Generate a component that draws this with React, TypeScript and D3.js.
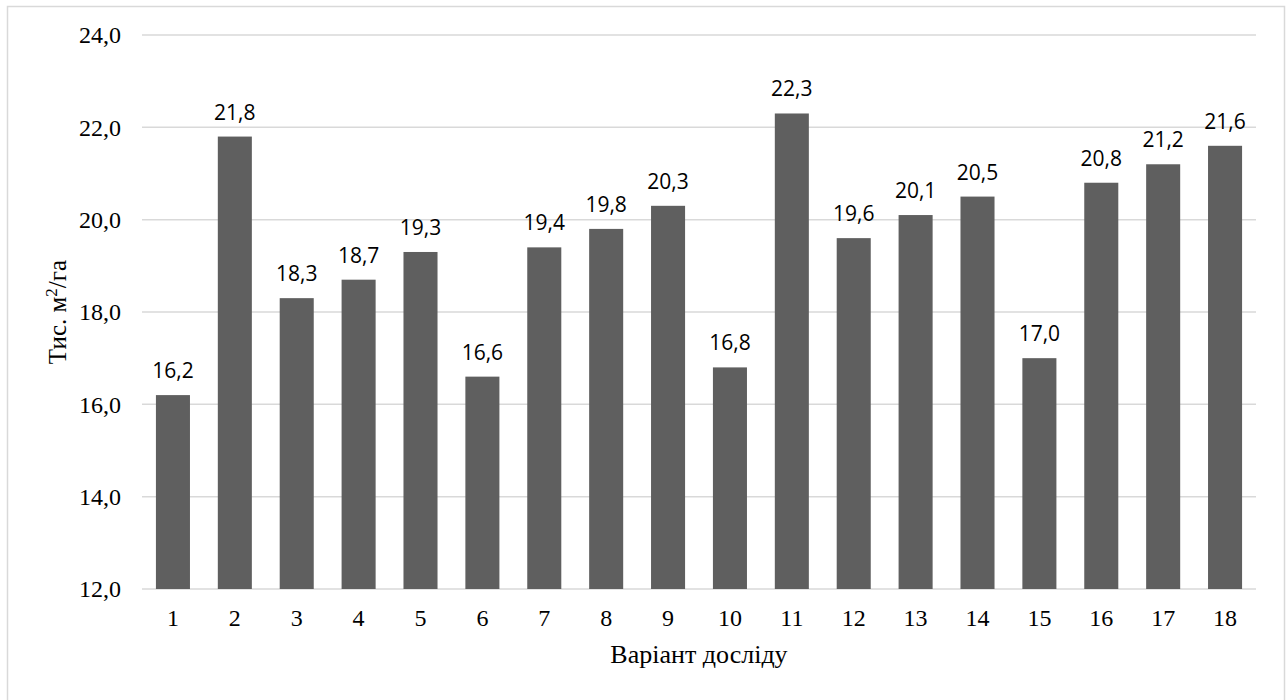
import React from "react";
import * as d3 from "d3";

const categories: string[] = ["1","2","3","4","5","6","7","8","9","10","11","12","13","14","15","16","17","18"];
const values: number[] = [16.2, 21.8, 18.3, 18.7, 19.3, 16.6, 19.4, 19.8, 20.3, 16.8, 22.3, 19.6, 20.1, 20.5, 17.0, 20.8, 21.2, 21.6];
const yTicks: number[] = [12, 14, 16, 18, 20, 22, 24];
const xTitle = "Варіант досліду";

const W = 1287;
const H = 700;
const margin = { left: 142, right: 31, top: 35, bottom: 111 };

const fmt = (v: number) => v.toFixed(1).replace(".", ",");

export default function App() {
  const x = d3
    .scaleBand<string>()
    .domain(categories)
    .range([margin.left, W - margin.right])
    .paddingInner(0.45)
    .paddingOuter(0.225);
  const y = d3.scaleLinear().domain([12, 24]).range([H - margin.bottom, margin.top]);
  const serif = "'Liberation Serif', 'Times New Roman', serif";
  const sans = "'Open Sans', 'Noto Sans', sans-serif";
  const plotCenterY = (y(12) + y(24)) / 2;
  const plotCenterX = (margin.left + W - margin.right) / 2;

  return (
    <svg
      width={W}
      height={H}
      style={{ position: "absolute", left: 0, top: 0, background: "#fff" }}
    >
      <rect x={7.5} y={6.5} width={1277} height={720} fill="#fff" stroke="#d9d9d9" strokeWidth={1.5} />
      {yTicks.map((t) => (
        <g key={t}>
          <line
            x1={margin.left}
            x2={W - margin.right}
            y1={y(t)}
            y2={y(t)}
            stroke="#d9d9d9"
            strokeWidth={1.5}
          />
          <text
            x={121}
            y={y(t)}
            dy="0.35em"
            textAnchor="end"
            fontFamily={serif}
            fontSize={24}
            fill="#000"
          >
            {fmt(t)}
          </text>
        </g>
      ))}
      {categories.map((c, i) => (
        <g key={c}>
          <rect
            x={x(c)}
            y={y(values[i])}
            width={x.bandwidth()}
            height={y(12) - y(values[i])}
            fill="#5f5f5f"
          />
          <text
            x={(x(c) as number) + x.bandwidth() / 2}
            y={y(values[i]) - 17}
            textAnchor="middle"
            fontFamily={sans}
            fontSize={21}
            fill="#000"
          >
            {fmt(values[i])}
          </text>
          <text
            x={(x(c) as number) + x.bandwidth() / 2}
            y={618}
            dy="0.35em"
            textAnchor="middle"
            fontFamily={serif}
            fontSize={24}
            fill="#000"
          >
            {c}
          </text>
        </g>
      ))}
      <text
        x={plotCenterX}
        y={654}
        dy="0.35em"
        textAnchor="middle"
        fontFamily={serif}
        fontSize={26}
        fill="#000"
      >
        {xTitle}
      </text>
      <text
        transform={`translate(57, ${plotCenterY}) rotate(-90)`}
        textAnchor="middle"
        dy="0.35em"
        fontFamily={serif}
        fontSize={25}
        fill="#000"
      >
        Тис. м<tspan baselineShift="super" fontSize={17}>2</tspan>/га
      </text>
    </svg>
  );
}
